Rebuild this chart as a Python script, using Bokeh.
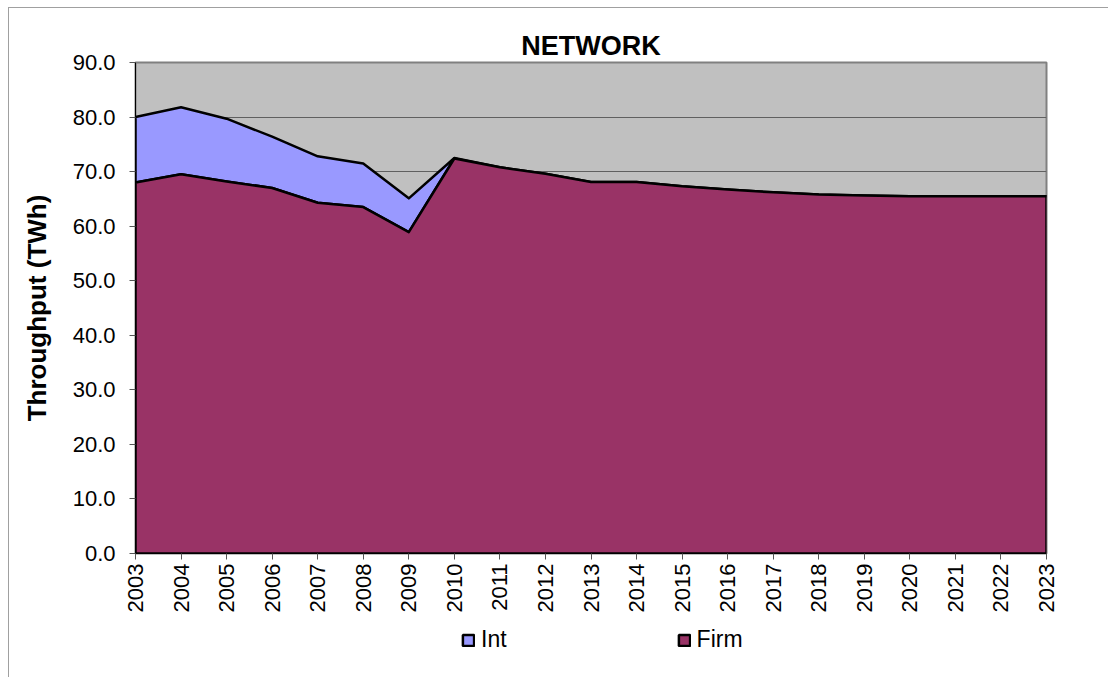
import math
from bokeh.plotting import figure
from bokeh.layouts import column
from bokeh.models import FixedTicker, NumeralTickFormatter, Legend, LegendItem, Range1d
from bokeh.embed import file_html
from bokeh.resources import INLINE

years = list(range(2003, 2024))
firm = [68.0, 69.5, 68.2, 67.0, 64.3, 63.5, 58.9, 72.4, 70.8, 69.6, 68.1,
        68.1, 67.3, 66.7, 66.2, 65.8, 65.6, 65.5, 65.5, 65.5, 65.5]
intr = [12.0, 12.3, 11.5, 9.4, 8.5, 8.0, 6.2, 0.1, 0.0, 0.0, 0.0,
        0.0, 0.0, 0.0, 0.0, 0.0, 0.0, 0.0, 0.0, 0.0, 0.0]
y_ticks = [0, 10, 20, 30, 40, 50, 60, 70, 80, 90]
series_names = ["Int", "Firm"]
series_colors = ["#9999FF", "#993366"]

top = [f + i for f, i in zip(firm, intr)]

FONT = "Liberation Sans"
TOTAL_W = 126 + 911 + 62

p = figure(
    frame_width=911, frame_height=491,
    min_border_left=126, min_border_top=54, min_border_right=62, min_border_bottom=64,
    x_range=Range1d(2003, 2023), y_range=Range1d(0, 90),
    output_backend="svg", toolbar_location=None, title="NETWORK",
)

p.background_fill_color = "#C0C0C0"
p.border_fill_color = "white"
p.outline_line_color = "#808080"
p.outline_line_width = 2

p.title.align = "center"
p.title.text_font = FONT
p.title.text_font_size = "27px"
p.title.text_font_style = "bold"
p.title.text_color = "black"
p.title.standoff = 4

# grid
p.xgrid.grid_line_color = None
p.ygrid.grid_line_color = "#606060"
p.ygrid.grid_line_width = 1
p.ygrid.ticker = FixedTicker(ticks=y_ticks)

# y axis
p.yaxis.ticker = FixedTicker(ticks=y_ticks)
p.yaxis.formatter = NumeralTickFormatter(format="0.0")
p.yaxis.axis_label = "Throughput (TWh)"
p.yaxis.axis_label_text_font = FONT
p.yaxis.axis_label_text_font_size = "26px"
p.yaxis.axis_label_text_font_style = "bold"
p.yaxis.axis_label_text_color = "black"
p.yaxis.axis_label_standoff = 18
p.yaxis.major_label_text_font = FONT
p.yaxis.major_label_text_font_size = "22px"
p.yaxis.major_label_text_color = "black"
p.yaxis.major_label_standoff = 14

# x axis
p.xaxis.ticker = FixedTicker(ticks=years)
p.xaxis.major_label_orientation = math.pi / 2
p.xaxis.major_label_text_font = FONT
p.xaxis.major_label_text_font_size = "22px"
p.xaxis.major_label_text_color = "black"
p.xaxis.major_label_standoff = 4

for ax in (p.xaxis[0], p.yaxis[0]):
    ax.axis_line_color = "black"
    ax.axis_line_width = 1
    ax.major_tick_line_color = "#555555"
    ax.major_tick_out = 6
    ax.major_tick_in = 0
    ax.minor_tick_line_color = None

# areas
firm_xs = years + [years[-1], years[0]]
firm_ys = firm + [0, 0]
int_xs = years + years[::-1]
int_ys = top + firm[::-1]
poly_xs = [int_xs, firm_xs]
poly_ys = [int_ys, firm_ys]

for xs, ys, color in zip(poly_xs, poly_ys, series_colors):
    p.patch(xs, ys, fill_color=color, line_color="black",
            line_width=2.5, line_join="round")

# legend strip below the chart (its renderers lie outside its own view)
p2 = figure(width=TOTAL_W, height=60, min_border=0,
            x_axis_type=None, y_axis_type=None,
            x_range=Range1d(0, 1), y_range=Range1d(0, 1),
            output_backend="svg", toolbar_location=None)
p2.outline_line_color = None
p2.background_fill_color = "white"
p2.border_fill_color = "white"
p2.grid.grid_line_color = None

items = []
for name, color, xs, ys in zip(series_names, series_colors, poly_xs, poly_ys):
    r = p2.patch(xs, ys, fill_color=color, line_color="black", line_width=2.5)
    items.append(LegendItem(label=name, renderers=[r]))

lg = Legend(items=items, location=(326, 24), orientation="horizontal")
lg.padding = 0
lg.margin = 0
lg.spacing = 170
lg.border_line_alpha = 0
lg.background_fill_alpha = 0
lg.glyph_width = 14
lg.glyph_height = 14
lg.label_standoff = 6
lg.label_height = 22
lg.label_text_font = FONT
lg.label_text_font_size = "23px"
lg.label_text_color = "black"
lg.label_text_baseline = "middle"
p2.add_layout(lg, "center")

layout = column(p, p2, spacing=0)
layout.styles = {"margin-left": "8px", "margin-top": "7px",
                 "border-left": "1px solid #a0a0a0", "border-top": "1px solid #a0a0a0"}

open("out.html", "w").write(file_html(layout, INLINE))
